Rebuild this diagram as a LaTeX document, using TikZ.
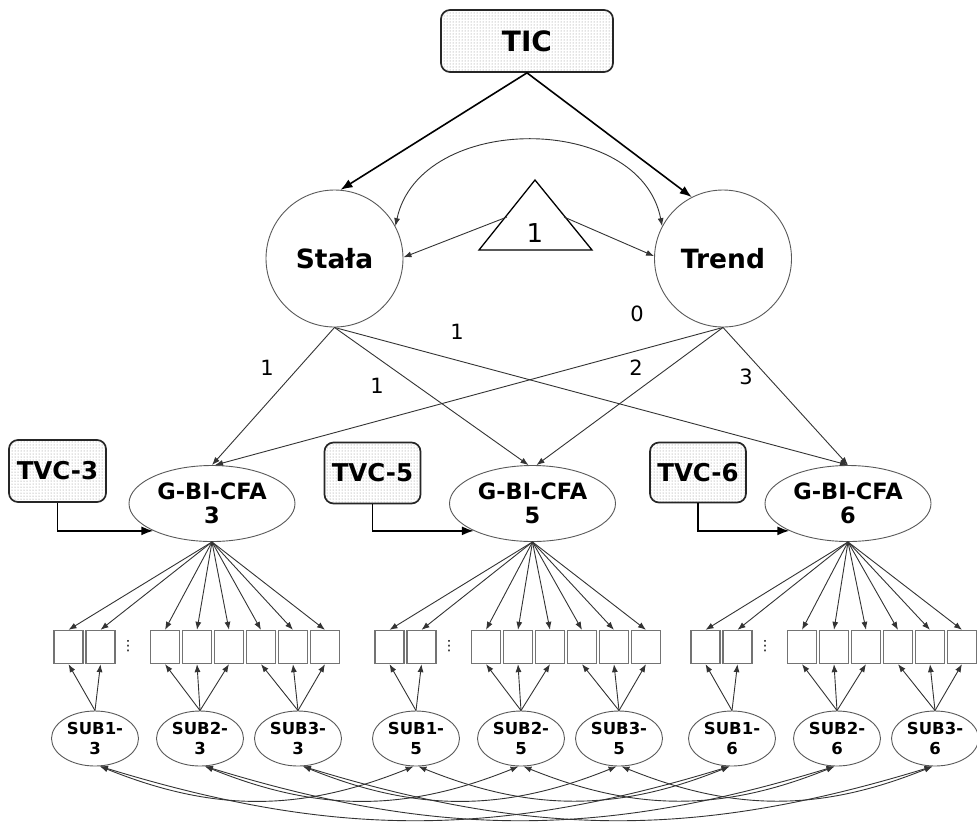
\documentclass[tikz,border=0pt]{standalone}
\usepackage{fontspec}
\setmainfont{DejaVu Sans}
\usetikzlibrary{arrows.meta,patterns,shapes.geometric,calc}
\begin{document}
\begin{tikzpicture}[x=1pt,y=1pt,
  thinline/.style={draw=black!80, line width=0.9pt},
  arr/.style={thinline, -{Latex[length=8pt,width=6pt]}},
  darr/.style={thinline, {Latex[length=8pt,width=6pt]}-{Latex[length=8pt,width=6pt]}},
  thickarr/.style={draw=black, line width=1.6pt, -{Latex[length=12pt,width=9pt]}},
  dotbox/.style={draw=black!85, line width=1.7pt, rounded corners=9pt, pattern=dots, pattern color=black!50, font=\bfseries\fontsize{24.5}{27}\selectfont, inner sep=0pt},
  latent/.style={circle, draw=black!65, line width=0.9pt, minimum size=137pt, inner sep=0pt, font=\bfseries\fontsize{26.5}{30}\selectfont},
  gfac/.style={ellipse, draw=black!65, line width=0.9pt, minimum width=166pt, minimum height=76pt, inner sep=0pt, align=center, font=\bfseries\fontsize{22.5}{24.5}\selectfont},
  subf/.style={ellipse, draw=black!65, line width=0.9pt, minimum width=87pt, minimum height=55pt, inner sep=0pt, align=center, font=\bfseries\fontsize{16.5}{20}\selectfont},
  ind/.style={rectangle, draw=black!55, line width=1.3pt, minimum width=29pt, minimum height=33pt, inner sep=0pt},
  lab/.style={font=\fontsize{21}{24}\selectfont, inner sep=0pt},
]
\useasboundingbox (0,0) rectangle (977,-823);

% top
\node[dotbox, minimum width=172pt, minimum height=62pt, font=\bfseries\fontsize{28}{32}\selectfont] (tic) at (527,-41) {TIC};
\node[latent] (S) at (334.5,-258.5) {Stała};
\node[latent] (T) at (723,-258.5) {Trend};

% triangle (constant)
\draw[line width=1.3pt] (479,-250) -- (535,-180) -- (592,-250) -- cycle;
\node[font=\fontsize{26}{30}\selectfont, inner sep=0pt] (tri) at (535,-233) {1};
\coordinate (tl) at (507,-217);
\coordinate (tr) at (564,-217);

\draw[thickarr] (tic.south) -- (S.85);
\draw[thickarr] (tic.south) -- (T.117);
\draw[darr] (S.28) .. controls (420,-112) and (640,-112) .. (T.152);
\draw[arr] (tl) -- (S.1);
\draw[arr] (tr) -- (T.178);

% time-specific factors
\node[gfac] (g3) at (212,-503.5) {G-BI-CFA\\3};
\node[gfac] (g5) at (532.5,-503.5) {G-BI-CFA\\5};
\node[gfac] (g6) at (848,-503.5) {G-BI-CFA\\6};

\node[dotbox, minimum width=97pt, minimum height=62pt] (tvc3) at (57.5,-471) {TVC-3};
\node[dotbox, minimum width=96pt, minimum height=61pt] (tvc5) at (372.5,-473) {TVC-5};
\node[dotbox, minimum width=96pt, minimum height=60pt] (tvc6) at (698,-472.5) {TVC-6};

\draw[thickarr] (tvc3.south) |- (g3.205);
\draw[thickarr] (tvc5.south) |- (g5.205);
\draw[thickarr] (tvc6.south) |- (g6.205);

% loadings
\draw[arr] (S.south) -- (g3.north);
\draw[arr] (S.south) -- ($(g5.north)+(-4,0)$);
\draw[arr] (S.south) -- (g6.north);
\draw[arr] (T.south) -- ($(g3.north)+(3,0)$);
\draw[arr] (T.south) -- ($(g5.north)+(4,0)$);
\draw[arr] (T.south) -- (g6.north);

\node[lab] (l1) at (267,-368) {1};
\node[lab] (l2) at (377,-386) {1};
\node[lab] (l3) at (457,-332) {1};
\node[lab] (l4) at (637,-314) {0};
\node[lab] (l5) at (636,-368) {2};
\node[lab] (l6) at (746,-377) {3};

% measurement blocks
\foreach \blk/\off in {3/0,5/321,6/637} {
  \foreach \i/\bx in {1/68.5,2/100.5,3/165,4/197,5/229,6/261,7/293,8/325} {
    \node[ind] (b\blk-\i) at (\bx+\off,-647) {};
    \draw[arr] (g\blk.south) -- (b\blk-\i.north);
  }
  \node[font=\fontsize{14}{14}\selectfont, inner sep=0pt] (dots\blk) at (128+\off,-646) {\symbol{"22EE}};
  \node[subf] (s1-\blk) at (95+\off,-738.5) {SUB1-\\\blk};
  \node[subf] (s2-\blk) at (200+\off,-738.5) {SUB2-\\\blk};
  \node[subf] (s3-\blk) at (298+\off,-738.5) {SUB3-\\\blk};
  \draw[arr] (s1-\blk.north) -- (b\blk-1.south);
  \draw[arr] (s1-\blk.north) -- (b\blk-2.south);
  \draw[arr] (s2-\blk.north) -- (b\blk-3.south);
  \draw[arr] (s2-\blk.north) -- (b\blk-4.south);
  \draw[arr] (s2-\blk.north) -- (b\blk-5.south);
  \draw[arr] (s3-\blk.north) -- (b\blk-6.south);
  \draw[arr] (s3-\blk.north) -- (b\blk-7.south);
  \draw[arr] (s3-\blk.north) -- (b\blk-8.south);
}

% residual covariances across time
\foreach \k in {1,2,3} {
  \draw[darr] (s\k-3.280) to[out=-22,in=-158] (s\k-5.265);
  \draw[darr] (s\k-5.275) to[out=-22,in=-158] (s\k-6.265);
  \draw[darr] (s\k-3.280) to[out=-17,in=-163] (s\k-6.265);
}
\end{tikzpicture}
\end{document}
